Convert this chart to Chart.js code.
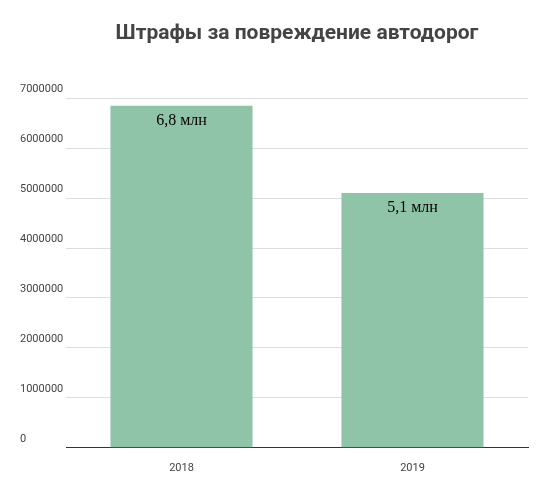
<!DOCTYPE html>
<html><head><meta charset="utf-8">
<script src="https://cdn.jsdelivr.net/npm/chart.js@4"></script>
<style>html,body{margin:0;background:#fff}#wrap{width:550px;height:485px}</style>
</head><body><div id="wrap"><canvas id="c"></canvas></div>
<script>
const years = ['2018', '2019']
const fines = [6850000, 5100000]
const fineLabels = ['6,8 млн', '5,1 млн']
const yTicks = [0, 1000000, 2000000, 3000000, 4000000, 5000000, 6000000, 7000000]

const sideLabels = {
  id: 'sideLabels',
  afterDraw (chart) {
    const ctx = chart.ctx
    const y = chart.scales.y
    ctx.save()
    ctx.font = '11px Roboto'
    ctx.fillStyle = '#444'
    ctx.textAlign = 'left'
    ctx.textBaseline = 'bottom'
    yTicks.forEach(v => ctx.fillText(String(v), 20, y.getPixelForValue(v) - 3))
    // подписи значений
    ctx.font = '16px "Liberation Serif"'
    ctx.fillStyle = '#000'
    ctx.textAlign = 'center'
    ctx.textBaseline = 'top'
    chart.getDatasetMeta(0).data.forEach((bar, i) => ctx.fillText(fineLabels[i], bar.x, bar.y + 7))
    ctx.restore()
  }
}

new Chart(document.getElementById('c'), {
  type: 'bar',
  data: {
    labels: years,
    datasets: [{ data: fines, backgroundColor: '#8fc4a8', categoryPercentage: 0.615, barPercentage: 1 }]
  },
  options: {
    responsive: true,
    maintainAspectRatio: false,
    animation: false,
    layout: { padding: { left: 66, right: 22, top: 0, bottom: 4 } },
    plugins: {
      legend: { display: false },
      tooltip: { enabled: false },
      title: {
        display: true,
        text: 'Штрафы за повреждение автодорог',
        color: '#444',
        font: { family: 'Roboto', size: 21, weight: 'bold' },
        padding: { top: 21, bottom: 52 }
      }
    },
    scales: {
      y: {
        min: 0,
        max: 7000000,
        ticks: { display: false, stepSize: 1000000 },
        grid: { color: '#ddd', drawTicks: false },
        border: { display: false }
      },
      x: {
        ticks: { color: '#444', font: { family: 'Roboto', size: 11 }, padding: 6 },
        grid: { display: false },
        border: { color: '#333' }
      }
    }
  },
  plugins: [sideLabels]
})
</script></body></html>
